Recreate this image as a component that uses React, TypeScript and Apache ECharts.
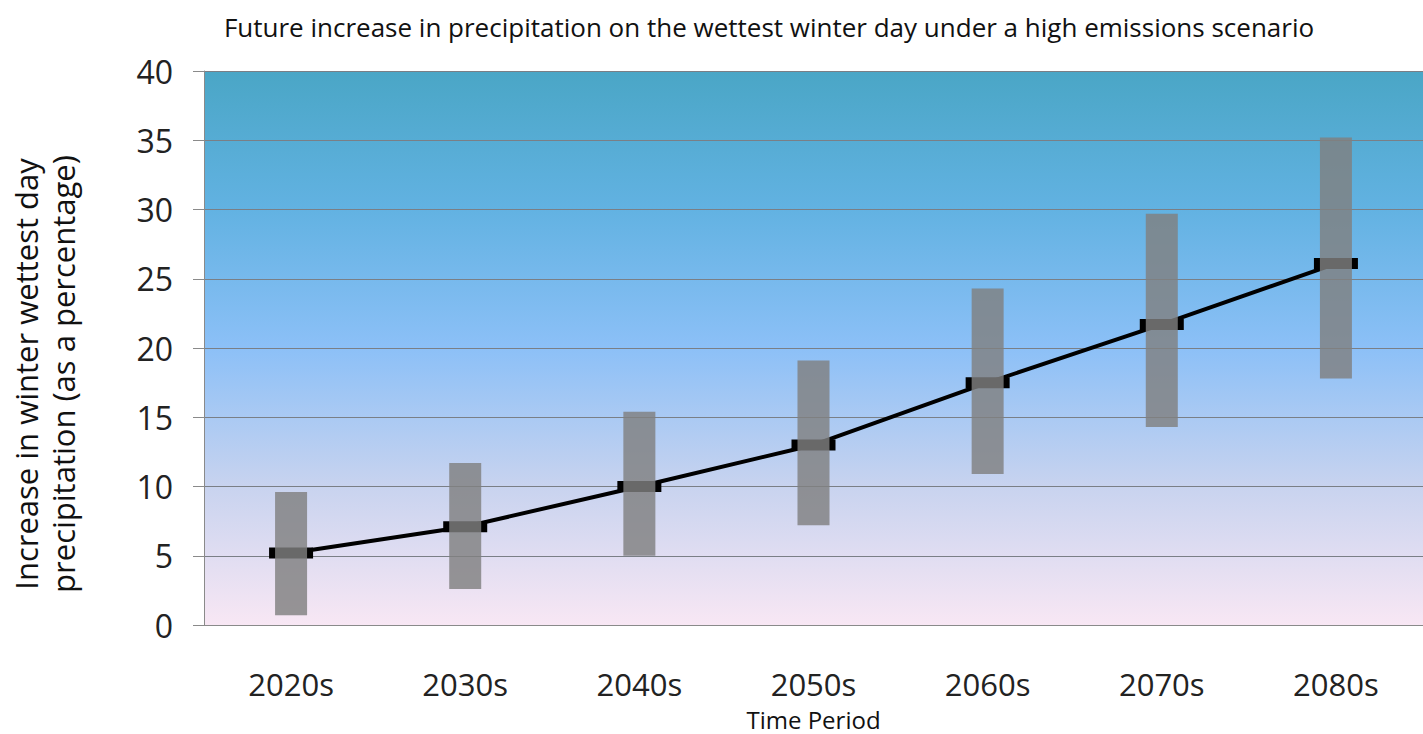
import React, { useEffect, useRef } from "react";
import * as echarts from "echarts";

const categories = ["2020s", "2030s", "2040s", "2050s", "2060s", "2070s", "2080s"];
const central = [5.2, 7.1, 10.0, 13.0, 17.5, 21.7, 26.1];
const lower = [0.7, 2.6, 5.0, 7.2, 10.9, 14.3, 17.8];
const upper = [9.6, 11.7, 15.4, 19.1, 24.3, 29.7, 35.2];
const yTicks = [0, 5, 10, 15, 20, 25, 30, 35, 40];
const yTitleLines = ["Increase in winter wettest day", "precipitation (as a percentage)"];

const FONT2 = "'Open Sans', 'DejaVu Sans', sans-serif";

export default function App() {
  const ref = useRef<HTMLDivElement>(null);
  useEffect(() => {
    if (!ref.current) return;
    const chart = echarts.init(ref.current, null, { renderer: "svg" });
    const rangeSize = upper.map((u, i) => +(u - lower[i]).toFixed(2));
    chart.setOption({
      animation: false,
      backgroundColor: "#ffffff",
      title: {
        text: "Future increase in precipitation on the wettest winter day under a high emissions scenario",
        left: 764,
        textAlign: "center",
        top: 9,
        textStyle: { fontFamily: FONT2, fontSize: 26, fontWeight: "normal", color: "#111" },
      },
      graphic: yTitleLines.map((t, i) => ({
        type: "text",
        x: 26 + i * 37,
        y: 374,
        rotation: Math.PI / 2,
        style: {
          text: t,
          fontFamily: FONT2,
          fontSize: 31,
          fill: "#111",
          textAlign: "center",
          textVerticalAlign: "middle",
        },
      })),
      grid: {
        left: 204,
        right: 0,
        top: 71,
        bottom: 109,
        containLabel: false,
        outerBoundsMode: "none",
        show: true,
        borderWidth: 0,
        backgroundColor: new echarts.graphic.LinearGradient(0, 0, 0, 1, [
          { offset: 0, color: "#4aa6c6" },
          { offset: 0.25, color: "#62b2e2" },
          { offset: 0.5, color: "#8cc0f7" },
          { offset: 0.75, color: "#c8d3ef" },
          { offset: 1, color: "#f8e7f4" },
        ]),
      },
      xAxis: {
        type: "category",
        data: categories,
        axisLine: { lineStyle: { color: "#8a8a8a", width: 1 } },
        axisTick: { show: false },
        axisLabel: { margin: 43, fontSize: 31, lineHeight: 32, fontFamily: FONT2, color: "#222" },
        name: "Time Period",
        nameLocation: "middle",
        nameGap: 82,
        nameTextStyle: { fontSize: 24, lineHeight: 24, fontFamily: FONT2, color: "#111" },
      },
      yAxis: {
        type: "value",
        min: yTicks[0],
        max: yTicks[yTicks.length - 1],
        interval: 5,
        axisLine: { show: true, lineStyle: { color: "#8a8a8a", width: 1 } },
        axisTick: { show: true, length: 11, lineStyle: { color: "#8a8a8a" } },
        axisLabel: { margin: 31, fontSize: 32, fontFamily: FONT2, color: "#222" },
        splitLine: { lineStyle: { color: "#7a7f86", width: 1.2 } },
      },
      series: [
        {
          type: "bar",
          stack: "range",
          data: lower,
          barWidth: 32,
          itemStyle: { color: "transparent" },
          z: 3,
          silent: true,
        },
        {
          type: "bar",
          stack: "range",
          data: rangeSize,
          barWidth: 32,
          itemStyle: { color: "rgba(128,128,128,0.82)" },
          z: 3,
        },
        {
          type: "line",
          data: central,
          z: 2,
          lineStyle: { color: "#000", width: 4 },
          symbol: "rect",
          symbolSize: [44, 11],
          itemStyle: { color: "#000" },
        },
      ],
    });
    return () => chart.dispose();
  }, []);
  return <div ref={ref} style={{ position: "fixed", left: 0, top: 0, width: 1423, height: 734 }} />;
}
